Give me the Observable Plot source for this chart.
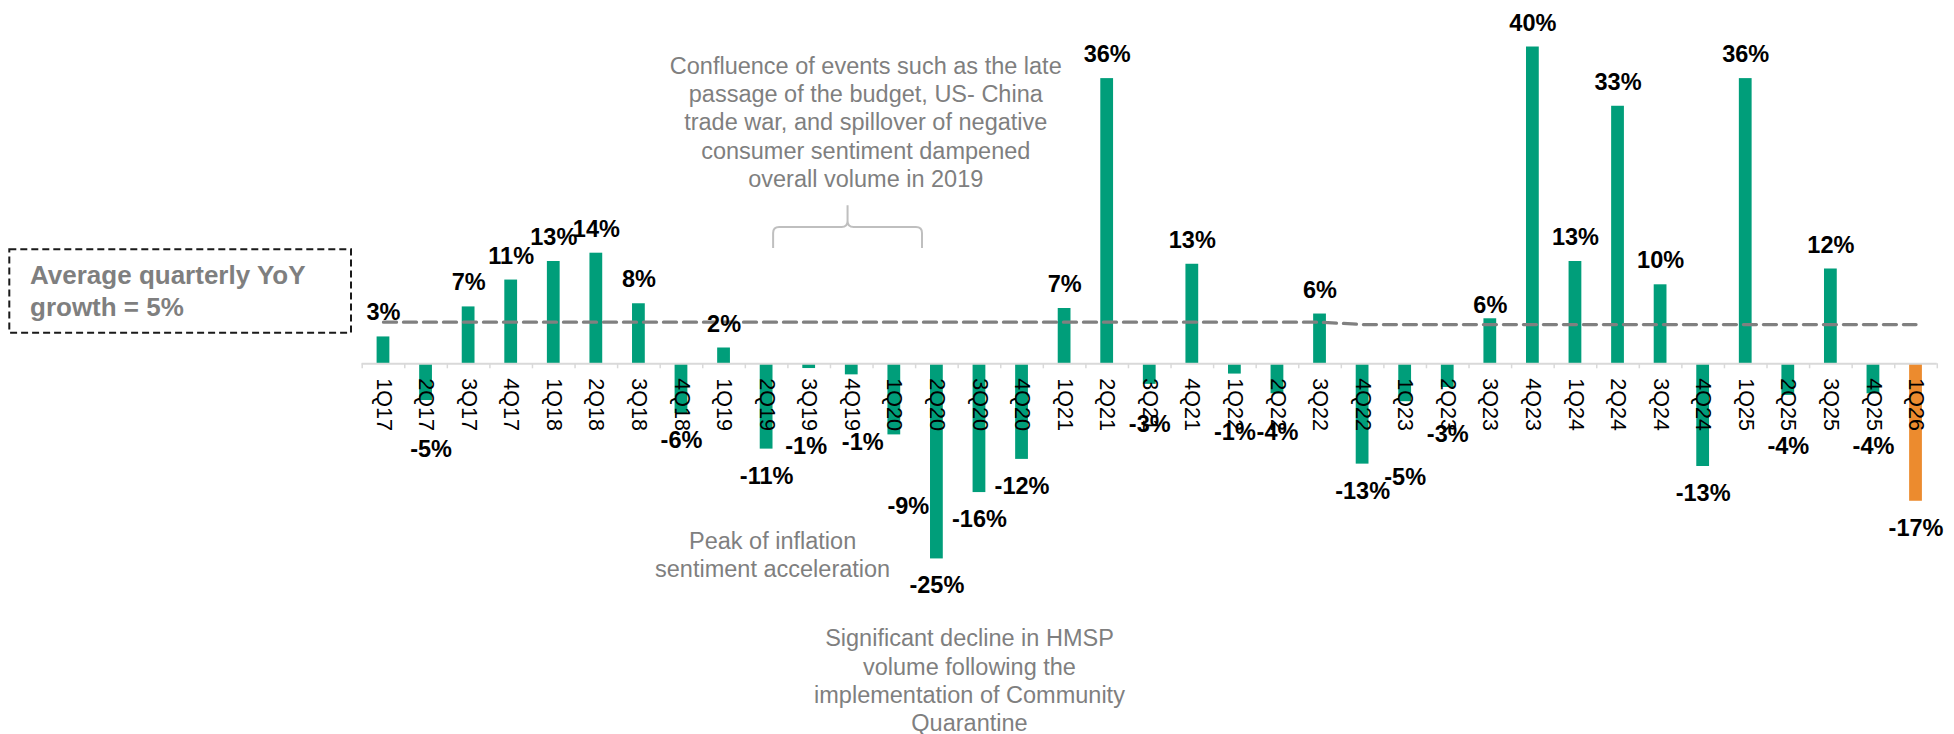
<!DOCTYPE html>
<html>
<head>
<meta charset="utf-8">
<script src="https://cdn.jsdelivr.net/npm/d3@7"></script>
<script src="https://cdn.jsdelivr.net/npm/@observablehq/plot@0.6"></script>
<style>
  html, body { margin: 0; padding: 0; background: #fff; }
  #chart { position: relative; width: 1954px; height: 734px; }
</style>
</head>
<body>
<div id="chart"></div>
<script>
// ---------- data ----------
const quarters = ["1Q17","2Q17","3Q17","4Q17","1Q18","2Q18","3Q18","4Q18","1Q19","2Q19","3Q19","4Q19",
  "1Q20","2Q20","3Q20","4Q20","1Q21","2Q21","3Q21","4Q21","1Q22","2Q22","3Q22","4Q22",
  "1Q23","2Q23","3Q23","4Q23","1Q24","2Q24","3Q24","4Q24","1Q25","2Q25","3Q25","4Q25","1Q26"];
const growth = [3.4, -4.65, 7.2, 10.6, 12.95, 14.0, 7.6, -6.3, 2.0, -10.8, -0.6, -1.4,
  -9.0, -24.7, -16.3, -12.1, 7.0, 36.1, -2.6, 12.6, -1.3, -3.8, 6.3, -12.7,
  -4.8, -3.0, 5.7, 40.1, 12.95, 32.6, 10.0, -13.0, 36.1, -4.0, 12.0, -3.8, -17.4];
const averageLine = [5.27, 5.27, 5.27, 5.27, 5.27, 5.27, 5.27, 5.27, 5.27, 5.27, 5.27, 5.27,
  5.27, 5.27, 5.27, 5.27, 5.27, 5.27, 5.27, 5.27, 5.27, 5.27, 5.27, 4.97,
  4.97, 4.97, 4.97, 4.97, 4.97, 4.97, 4.97, 4.97, 4.97, 4.97, 4.97, 4.97, 4.97];
const highlighted = ["1Q26"];
const averageBoxText = ["Average quarterly YoY", "growth = 5%"];
const noteBudget = "Confluence of events such as the late\npassage of the budget, US- China\ntrade war, and spillover of negative\nconsumer sentiment dampened\noverall volume in 2019";
const noteInflation = "Peak of inflation\nsentiment acceleration";
const noteQuarantine = "Significant decline in HMSP\nvolume following the\nimplementation of Community\nQuarantine";

// ---------- layout / style ----------
const W = 1954, H = 734;
const ML = 361.7, MR = 17.2;
const zeroY = 363.3, PX = 7.9;            // pixel of 0% and pixels per 1%
const yDomain = [-30, 45];
const MT = zeroY - yDomain[1] * PX;
const MB = H - (zeroY - yDomain[0] * PX);
const step = (W - ML - MR) / quarters.length;
const GREEN = "#009E7A", ORANGE = "#EC8B2E";
const FONT = "'Liberation Sans', Arial, Helvetica, sans-serif";
const GRAYTXT = "#7f7f7f";

// manual label nudges [dx, dy] in px (as placed in the original)
const labelNudge = {"2Q17":[5,10], "3Q19":[-3,7], "4Q19":[11,3], "1Q20":[14,44.6], "3Q21":[0,-15],
  "1Q22":[0,-7], "2Q22":[0,-7], "1Q23":[0,38], "2Q23":[0,-5], "2Q25":[0,7], "4Q25":[0,7], "3Q23":[0,11]};
const negClamp = -(430 - 17.7 - zeroY) / PX;

const data = quarters.map((q, i) => ({q, v: growth[i], avg: averageLine[i]}));
const fmt = v => `${Math.round(v)}%`;

const valueLabels = data.map(d => {
  const [ndx, ndy] = labelNudge[d.q] || [0, 0];
  const pos = d.v >= 0;
  return Plot.text([d], {
    x: "q",
    y: pos ? d.v : Math.min(d.v, negClamp),
    text: dd => fmt(dd.v),
    lineAnchor: pos ? "bottom" : "top",
    textAnchor: "middle",
    dx: ndx,
    dy: (pos ? -16.5 : 17.7) + ndy,
    fontSize: 23.5, fontWeight: "bold", fill: "#000"
  });
});

const chart = Plot.plot({
  width: W, height: H,
  marginLeft: ML, marginRight: MR, marginTop: MT, marginBottom: MB,
  style: {fontFamily: FONT, background: "#fff", overflow: "visible"},
  x: {type: "band", domain: quarters, paddingInner: 0.7, paddingOuter: 0.35, round: false, axis: null},
  y: {domain: yDomain, axis: null},
  marks: [
    Plot.barY(data.filter(d => !highlighted.includes(d.q)), {x: "q", y: "v", fill: GREEN}),
    Plot.barY(data.filter(d => highlighted.includes(d.q)), {x: "q", y: "v", fill: ORANGE}),
    Plot.ruleY([0], {stroke: "#d9d9d9", strokeWidth: 2}),
    Plot.ruleX(quarters, {x: d => d, y1: 0, y2: -5 / PX, dx: -step / 2, stroke: "#d9d9d9", strokeWidth: 1.5}),
    Plot.ruleX([quarters[quarters.length - 1]], {x: d => d, y1: 0, y2: -5 / PX, dx: step / 2, stroke: "#d9d9d9", strokeWidth: 1.5}),
    Plot.line(data, {x: "q", y: "avg", stroke: "#808080", strokeWidth: 3.3, strokeDasharray: "13,7"}),
    Plot.text(data, {x: "q", y: 0, text: "q", rotate: 90, textAnchor: "start", lineAnchor: "middle",
      dy: 14.5, fontSize: 21.5, fill: "#000", ariaLabel: "tick-labels"}),
    ...valueLabels,
    Plot.text([noteBudget], {x: () => "4Q19", y: 39.25, text: d => d, dx: 14, textAnchor: "middle",
      lineAnchor: "top", lineHeight: 1.205, fontSize: 23.5, fill: GRAYTXT}),
    Plot.text([noteInflation], {x: () => "2Q19", y: -20.9, text: d => d, dx: 6, textAnchor: "middle",
      lineAnchor: "top", lineHeight: 1.205, fontSize: 23.5, fill: GRAYTXT}),
    Plot.text([noteQuarantine], {x: () => "3Q20", y: -33.2, text: d => d, dx: -10, textAnchor: "middle",
      lineAnchor: "top", lineHeight: 1.205, fontSize: 23.5, fill: GRAYTXT})
  ]
});

document.getElementById("chart").appendChild(chart);

// condensed look of the category labels (narrow face emulation)
d3.select(chart).selectAll('g[aria-label="tick-labels"] text').each(function () {
  const t = this.getAttribute("transform") || "";
  this.setAttribute("transform", t + " scale(0.82,1)");
});

// ---------- annotation decorations (brace + average box) ----------
const xs = chart.scale("x"), ys = chart.scale("y");
const cx = q => xs.apply(q) + xs.bandwidth / 2;
const svg = d3.select(chart);
const left = cx("2Q19") + 7, right = cx("2Q20") - 14.4, mid = (left + right) / 2;
const yTip = ys.apply(20.0), yBar = ys.apply(17.25), yEnd = ys.apply(14.6), r = 6;
svg.append("path")
  .attr("d", `M${left},${yEnd} L${left},${yBar + r} Q${left},${yBar} ${left + r},${yBar} L${mid - r},${yBar} Q${mid},${yBar} ${mid},${yBar - r} L${mid},${yTip} M${mid},${yBar - r} Q${mid},${yBar} ${mid + r},${yBar} L${right - r},${yBar} Q${right},${yBar} ${right},${yBar + r} L${right},${yEnd}`)
  .attr("fill", "none").attr("stroke", "#bfbfbf").attr("stroke-width", 2);

const box = svg.append("g");
box.append("rect").attr("x", 9.3).attr("y", 249.3).attr("width", 341.7).attr("height", 83.4)
  .attr("fill", "none").attr("stroke", "#1a1a1a").attr("stroke-width", 2).attr("stroke-dasharray", "7,4");
averageBoxText.forEach((t, i) => {
  box.append("text").attr("x", 30).attr("y", 284.3 + i * 31.7).text(t)
    .attr("text-anchor", "start")
    .attr("font-family", FONT).attr("font-size", 26).attr("font-weight", "bold").attr("fill", GRAYTXT);
});
</script>
</body>
</html>
